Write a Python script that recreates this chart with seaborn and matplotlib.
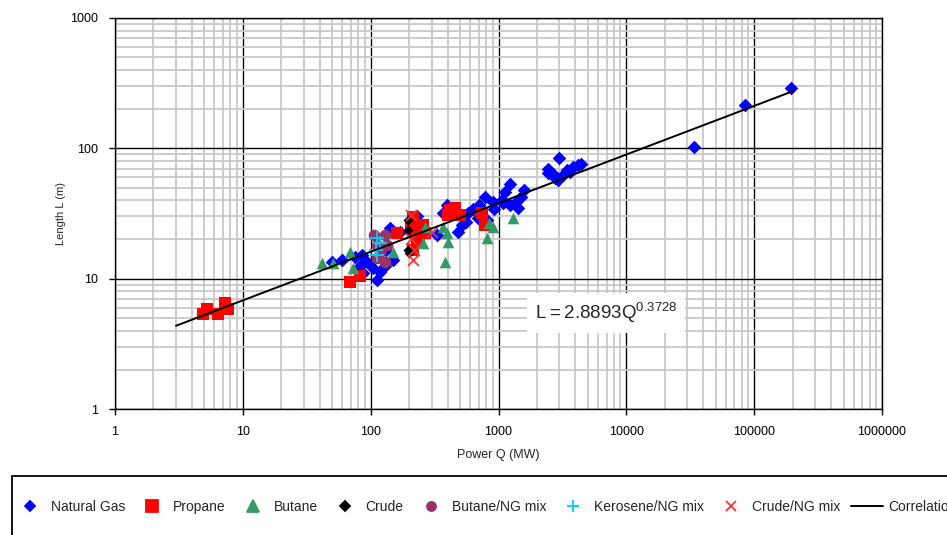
import numpy as np
import pandas as pd
import seaborn as sns
import matplotlib.pyplot as plt
from matplotlib.lines import Line2D
from matplotlib.patches import Rectangle
from matplotlib.ticker import LogLocator, NullFormatter, FixedLocator, FixedFormatter

# Data (Q in MW, L in m)
ng_q = [85000, 195000, 34000,
        2950, 2460, 2650, 2900, 3170, 3460, 3800, 4150, 4400, 2790, 3600, 2460,
        1240, 1130, 1070, 1240, 1360, 1490, 1570, 1410, 900, 915,
        790, 710, 690, 810, 560, 515, 480, 1090, 393, 366, 627, 574,
        141, 169, 50, 60, 75, 85, 93, 82, 104, 118, 129, 149, 87, 133, 113,
        230, 328]
ng_l = [214, 288, 103,
        85, 70, 64, 57, 62, 68, 72, 74, 76, 59, 66, 65,
        53, 46, 40, 37, 39, 42, 48, 35, 39, 34,
        42, 37, 29, 28, 27, 26, 23, 38, 37, 32, 34, 32,
        24.6, 22.9, 13.5, 14, 14.7, 15.3, 13.5, 12.4, 12.1, 11.3, 12.4, 14, 11.1, 16.7, 9.8,
        30, 21.7]

propane_q = [4.9, 5.25, 6.4, 7.26, 7.67, 69, 82, 160,
             213, 207, 222, 229, 213, 255, 265, 237,
             415, 454, 400, 497, 740, 790]
propane_l = [5.4, 5.9, 5.4, 6.5, 5.9, 9.5, 10.4, 22.5,
             29.9, 25, 22.5, 18.9, 16.7, 25.9, 22.5, 20,
             33.8, 35, 31, 31, 32, 26]

butane_q = [41.5, 50.6, 69, 72.6, 149, 265, 255, 366, 393, 400, 380, 850, 900, 820, 1310]
butane_l = [13.3, 13.3, 16.1, 12.1, 16.1, 25, 18.9, 25, 22.5, 19.2, 13.5, 26.9, 25, 20.6, 29.3]

crude_q = [195, 197, 195, 200]
crude_l = [28.3, 23.7, 16.7, 15.8]

butane_ng_q = [107, 129, 113, 135, 113, 129, 118]
butane_ng_l = [21.8, 21.8, 18.2, 18.2, 14.5, 13.5, 16]

kero_ng_q = [113, 118, 111, 113]
kero_ng_l = [20.6, 18.9, 16.7, 15.3]

crude_ng_q = [213, 220, 300, 205, 205]
crude_ng_l = [14, 16.7, 22.9, 31, 20]

corr_q = [3, 200000]
corr_l = [4.35, 274]

fuels = ['Natural Gas', 'Propane', 'Butane', 'Crude', 'Butane/NG mix',
         'Kerosene/NG mix', 'Crude/NG mix']
series = [(ng_q, ng_l), (propane_q, propane_l), (butane_q, butane_l),
          (crude_q, crude_l), (butane_ng_q, butane_ng_l),
          (kero_ng_q, kero_ng_l), (crude_ng_q, crude_ng_l)]

frames = []
for name, (q, l) in zip(fuels, series):
    frames.append(pd.DataFrame({'Q': q, 'L': l, 'fuel': name}))
df = pd.concat(frames, ignore_index=True)

colors = {'Natural Gas': '#0000ff', 'Propane': '#ff0000', 'Butane': '#339966',
          'Crude': '#000000', 'Butane/NG mix': '#993366',
          'Kerosene/NG mix': '#00ccff', 'Crude/NG mix': '#ff3030'}
markers = {'Natural Gas': 'D', 'Propane': 's', 'Butane': '^', 'Crude': 'D',
           'Butane/NG mix': 'o', 'Kerosene/NG mix': '+', 'Crude/NG mix': 'x'}
sizes = {'Natural Gas': 48, 'Propane': 78, 'Butane': 70, 'Crude': 26,
         'Butane/NG mix': 70, 'Kerosene/NG mix': 90, 'Crude/NG mix': 60}

sns.set_style('white')
plt.rcParams['font.family'] = ['Liberation Sans', 'DejaVu Sans']

fig, ax = plt.subplots(figsize=(9.47, 5.35), dpi=100)
fig.subplots_adjust(left=115/947, right=882/947, top=1-18/535, bottom=1-409/535)

ax.set_xscale('log')
ax.set_yscale('log')
ax.set_xlim(1, 1e6)
ax.set_ylim(1, 1000)

# gridlines
ax.xaxis.set_minor_locator(LogLocator(base=10, subs=np.arange(2, 10)))
ax.yaxis.set_minor_locator(LogLocator(base=10, subs=np.arange(2, 10)))
ax.xaxis.set_minor_formatter(NullFormatter())
ax.yaxis.set_minor_formatter(NullFormatter())
ax.grid(which='minor', color='#c8c8c8', linewidth=1.3)
ax.grid(which='major', color='black', linewidth=1.0)
ax.set_axisbelow(True)

xt = [1, 10, 100, 1000, 10000, 100000, 1000000]
yt = [1, 10, 100, 1000]
ax.xaxis.set_major_locator(FixedLocator(xt))
ax.xaxis.set_major_formatter(FixedFormatter([str(v) for v in xt]))
ax.yaxis.set_major_locator(FixedLocator(yt))
ax.yaxis.set_major_formatter(FixedFormatter([str(v) for v in yt]))
ax.tick_params(which='major', direction='out', length=4, width=1, labelsize=9,
               left=True, bottom=True, colors='black', pad=8)
ax.tick_params(which='minor', length=0)

for s in ax.spines.values():
    s.set_color('black')
    s.set_linewidth(1)

for name in fuels:
    sub = df[df['fuel'] == name]
    lw = 1.3 if markers[name] in ('+', 'x') else 0
    sns.scatterplot(data=sub, x='Q', y='L', ax=ax, color=colors[name],
                    marker=markers[name], s=sizes[name], linewidth=lw,
                    edgecolor=colors[name] if lw == 0 else None, legend=False, zorder=3)

corr_df = pd.DataFrame({'Q': corr_q, 'L': corr_l})
sns.lineplot(data=corr_df, x='Q', y='L', ax=ax, color='black', linewidth=1.4, zorder=4)

ax.text(1930, 5.45, r'$\mathregular{L = 2.8893Q^{0.3728}}$', fontsize=13.5,
        ha='left', va='center', zorder=5,
        bbox=dict(facecolor='white', edgecolor='none', pad=6))

ax.set_xlabel('Power Q (MW)', fontsize=9, labelpad=8)
ax.set_ylabel('Length L (m)', fontsize=8, labelpad=3)

# legend frame (runs off the right and bottom edges like the original)
fig.patches.append(Rectangle((12/947, 1-545/535), 960/947, 69/535,
                             transform=fig.transFigure, fill=False,
                             edgecolor='black', linewidth=1.3))

handles = []
for name in fuels:
    m = markers[name]
    ms = {'D': 5, 's': 8, '^': 8, 'o': 6.5, '+': 9, 'x': 7.5}[m]
    handles.append(Line2D([], [], linestyle='none', marker=m, markersize=ms,
                          color=colors[name], markeredgewidth=1.3))
handles.append(Line2D([], [], color='black', linewidth=1.4))
labels = fuels + ['Correlation']

leg = fig.legend(handles, labels, loc='center left',
                 bbox_to_anchor=(14/947, 1-507/535), ncol=8, frameon=False,
                 fontsize=10, handlelength=2.3, handletextpad=0.35,
                 columnspacing=0.8, borderpad=0, borderaxespad=0)

plt.savefig('out.png', dpi=100)
